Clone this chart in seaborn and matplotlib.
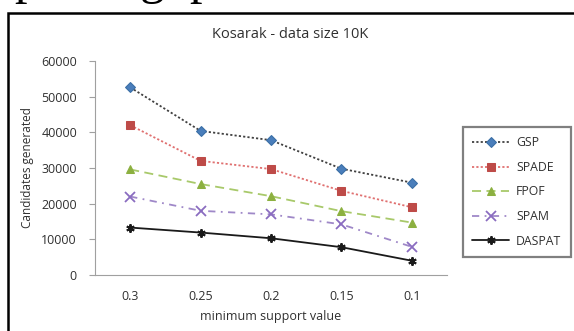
import matplotlib
matplotlib.use('Agg')
import matplotlib.pyplot as plt
import seaborn as sns
import pandas as pd
from matplotlib.patches import Rectangle

# data
support = ['0.3', '0.25', '0.2', '0.15', '0.1']
gsp = [52600, 40400, 37800, 29800, 25900]
spade = [42000, 32000, 29700, 23600, 19000]
fpof = [29600, 25500, 22100, 17900, 14700]
spam = [22000, 18000, 17000, 14200, 7900]
daspat = [13300, 11900, 10300, 7800, 4000]
names = ['GSP', 'SPADE', 'FPOF', 'SPAM', 'DASPAT']

sns.set_style('white')
plt.rcParams['font.family'] = ['Open Sans', 'DejaVu Sans']

fig = plt.figure(figsize=(5.74, 3.31), dpi=100)
W, H = 574, 331
ax = fig.add_axes([95 / W, 56 / H, 352 / W, 214 / H])

# outer frame of the pasted chart
fig.patches.append(Rectangle((8 / W, -0.05), 1.2, 1 - 13 / H + 0.05, transform=fig.transFigure,
                             fill=False, edgecolor='black', linewidth=1.8))
# cropped text line from the page above the chart
fig.text(15 / W, 1 + 7 / H, 'p        g  p', family='Liberation Serif', fontsize=36,
         ha='left', va='baseline', color='black')

styles = {
    'GSP': dict(color='#404040', linestyle=(0, (1.2, 1.2)), marker='D', markersize=5,
                markerfacecolor='#4A7EBB', markeredgecolor='#3A6EA5'),
    'SPADE': dict(color='#E07070', linestyle=(0, (1.2, 1.2)), marker='s', markersize=6,
                  markerfacecolor='#BE4B48', markeredgecolor='#BE4B48'),
    'FPOF': dict(color='#A8C96A', linestyle=(0, (5, 3)), marker='^', markersize=6,
                 markerfacecolor='#8CB040', markeredgecolor='#8CB040'),
    'SPAM': dict(color='#9F88C8', linestyle=(0, (4, 3, 1, 3)), marker='x', markersize=7,
                 markeredgewidth=1.3, markeredgecolor='#8A6CC0'),
    'DASPAT': dict(color='#1a1a1a', linestyle='-', marker=(6, 2, 0), markersize=6,
                   markeredgewidth=1.4, markeredgecolor='#1a1a1a'),
}

df = pd.DataFrame({'support': support * 5,
                   'value': gsp + spade + fpof + spam + daspat,
                   'algo': [n for n in names for _ in support]})

for n in names:
    sub = df[df.algo == n]
    sns.lineplot(data=sub, x='support', y='value', ax=ax, label=n, linewidth=1.3, **styles[n])

ax.set_xlim(-0.5, 4.5)
ax.set_ylim(0, 60000)
ax.set_yticks(range(0, 60001, 10000))
ax.set_yticklabels([str(v) for v in range(0, 60001, 10000)])
for s in ['top', 'right']:
    ax.spines[s].set_visible(False)
ax.spines['left'].set_color('#a0a0a0')
ax.spines['bottom'].set_color('#a0a0a0')
ax.tick_params(axis='y', length=4, color='#a0a0a0', labelsize=9, pad=9, left=True,
               labelcolor='#303030')
ax.tick_params(axis='x', length=0, labelsize=9, pad=11, labelcolor='#303030')

ax.set_xlabel('minimum support value', fontsize=9, labelpad=5, color='#303030')
ax.set_ylabel('Candidates generated', fontsize=8.5, labelpad=5, color='#303030')
fig.text(290 / W, 1 - 34 / H, 'Kosarak - data size 10K', fontsize=10.5, ha='center',
         va='center', color='#303030')

ax.get_legend().remove()
handles, labels = ax.get_legend_handles_labels()
leg = fig.legend(handles, labels, loc='upper left', bbox_to_anchor=(463 / W, 1 - 127 / H),
                 fontsize=8.8, frameon=True, fancybox=False, labelspacing=0.95,
                 handlelength=3.0, handletextpad=0.6, borderpad=0.75, borderaxespad=0)
leg.get_frame().set_edgecolor('#606060')
leg.get_frame().set_linewidth(1.6)
for t in leg.get_texts():
    t.set_color('#303030')

fig.savefig('out.png', dpi=100)
